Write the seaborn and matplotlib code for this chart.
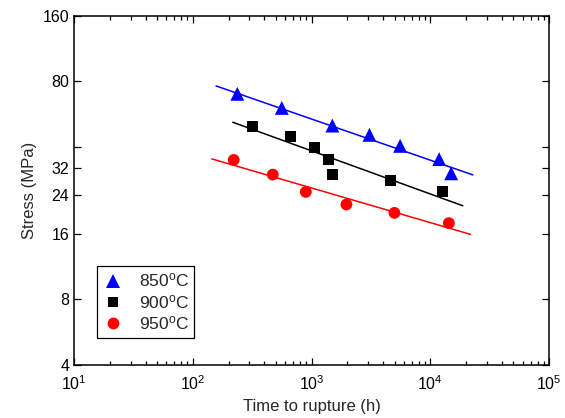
import matplotlib
matplotlib.use('Agg')
import matplotlib.pyplot as plt
import seaborn as sns
import pandas as pd
import numpy as np

# 데이터
t_850 = [237, 561, 1496, 3069, 5560, 11850, 14960]
s_850 = [70.2, 60.5, 50.2, 45.5, 40.5, 35.2, 30.3]
t_900 = [317, 662, 1056, 1385, 1509, 4645, 12730]
s_900 = [49.6, 44.7, 39.8, 34.9, 30.0, 28.0, 24.9]
t_950 = [221, 471, 894, 1964, 4980, 14300]
s_950 = [34.9, 29.9, 24.9, 21.8, 19.95, 17.9]

# 피팅 직선 양 끝점
fit_t_850 = [157, 22770]
fit_s_850 = [76.3, 29.8]
fit_t_900 = [217, 18760]
fit_s_900 = [52.0, 21.5]
fit_t_950 = [144.5, 21740]
fit_s_950 = [35.3, 15.9]

labels = ['850$^\\mathrm{o}$C', '900$^\\mathrm{o}$C', '950$^\\mathrm{o}$C']
colors = ['#0000ff', '#000000', '#ff0000']

y_ticks = [4, 8, 16, 24, 32, 40, 80, 160]
y_ticklabels = ['4', '8', '16', '24', '32', '', '80', '160']

sns.set_theme(style='ticks')
plt.rcParams['font.family'] = ['Liberation Sans', 'DejaVu Sans']
plt.rcParams['mathtext.fontset'] = 'custom'
plt.rcParams['mathtext.rm'] = 'Liberation Sans'
plt.rcParams['mathtext.it'] = 'Liberation Sans:italic'

df = pd.concat([
    pd.DataFrame({'t': t_850, 's': s_850, 'T': labels[0]}),
    pd.DataFrame({'t': t_900, 's': s_900, 'T': labels[1]}),
    pd.DataFrame({'t': t_950, 's': s_950, 'T': labels[2]}),
])
fits = [(fit_t_850, fit_s_850), (fit_t_900, fit_s_900), (fit_t_950, fit_s_950)]

fig = plt.figure(figsize=(5.65, 4.18), dpi=100)
ax = fig.add_axes([0.131, 0.127, 0.841, 0.835])

for (ft, fs), c in zip(fits, colors):
    sns.lineplot(x=ft, y=fs, color=c, lw=1.1, ax=ax, legend=False)

sns.scatterplot(data=df, x='t', y='s', hue='T', style='T', size='T',
                palette=dict(zip(labels, colors)),
                markers=dict(zip(labels, ['^', 's', 'o'])),
                sizes=dict(zip(labels, [100, 62, 72])),
                linewidth=0, ax=ax, zorder=3)

ax.set_xscale('log')
ax.set_yscale('log')
ax.set_xlim(10, 1e5)
ax.set_ylim(4, 160)
ax.set_yticks(y_ticks)
ax.set_yticklabels(y_ticklabels)
ax.yaxis.set_minor_locator(matplotlib.ticker.NullLocator())
ax.set_xticks([1e1, 1e2, 1e3, 1e4, 1e5])

ax.tick_params(which='both', direction='in', top=True, right=True,
               labelsize=11.5, width=0.9, colors='black')
ax.tick_params(which='major', length=5)
ax.tick_params(which='minor', length=3)
ax.tick_params(axis='x', pad=7)
for sp in ax.spines.values():
    sp.set_linewidth(1.1)
    sp.set_color('black')

ax.set_xlabel('Time to rupture (h)', fontsize=12)
ax.set_ylabel('Stress (MPa)', fontsize=12)

ax.legend(loc='lower left', bbox_to_anchor=(0.03, 0.053), frameon=True,
          fancybox=False, edgecolor='black', fontsize=12.5,
          handlelength=1.2, handletextpad=0.9, borderpad=0.3,
          labelspacing=0.2, framealpha=1)
ax.get_legend().get_frame().set_linewidth(0.9)

fig.savefig('out.png', dpi=100)
